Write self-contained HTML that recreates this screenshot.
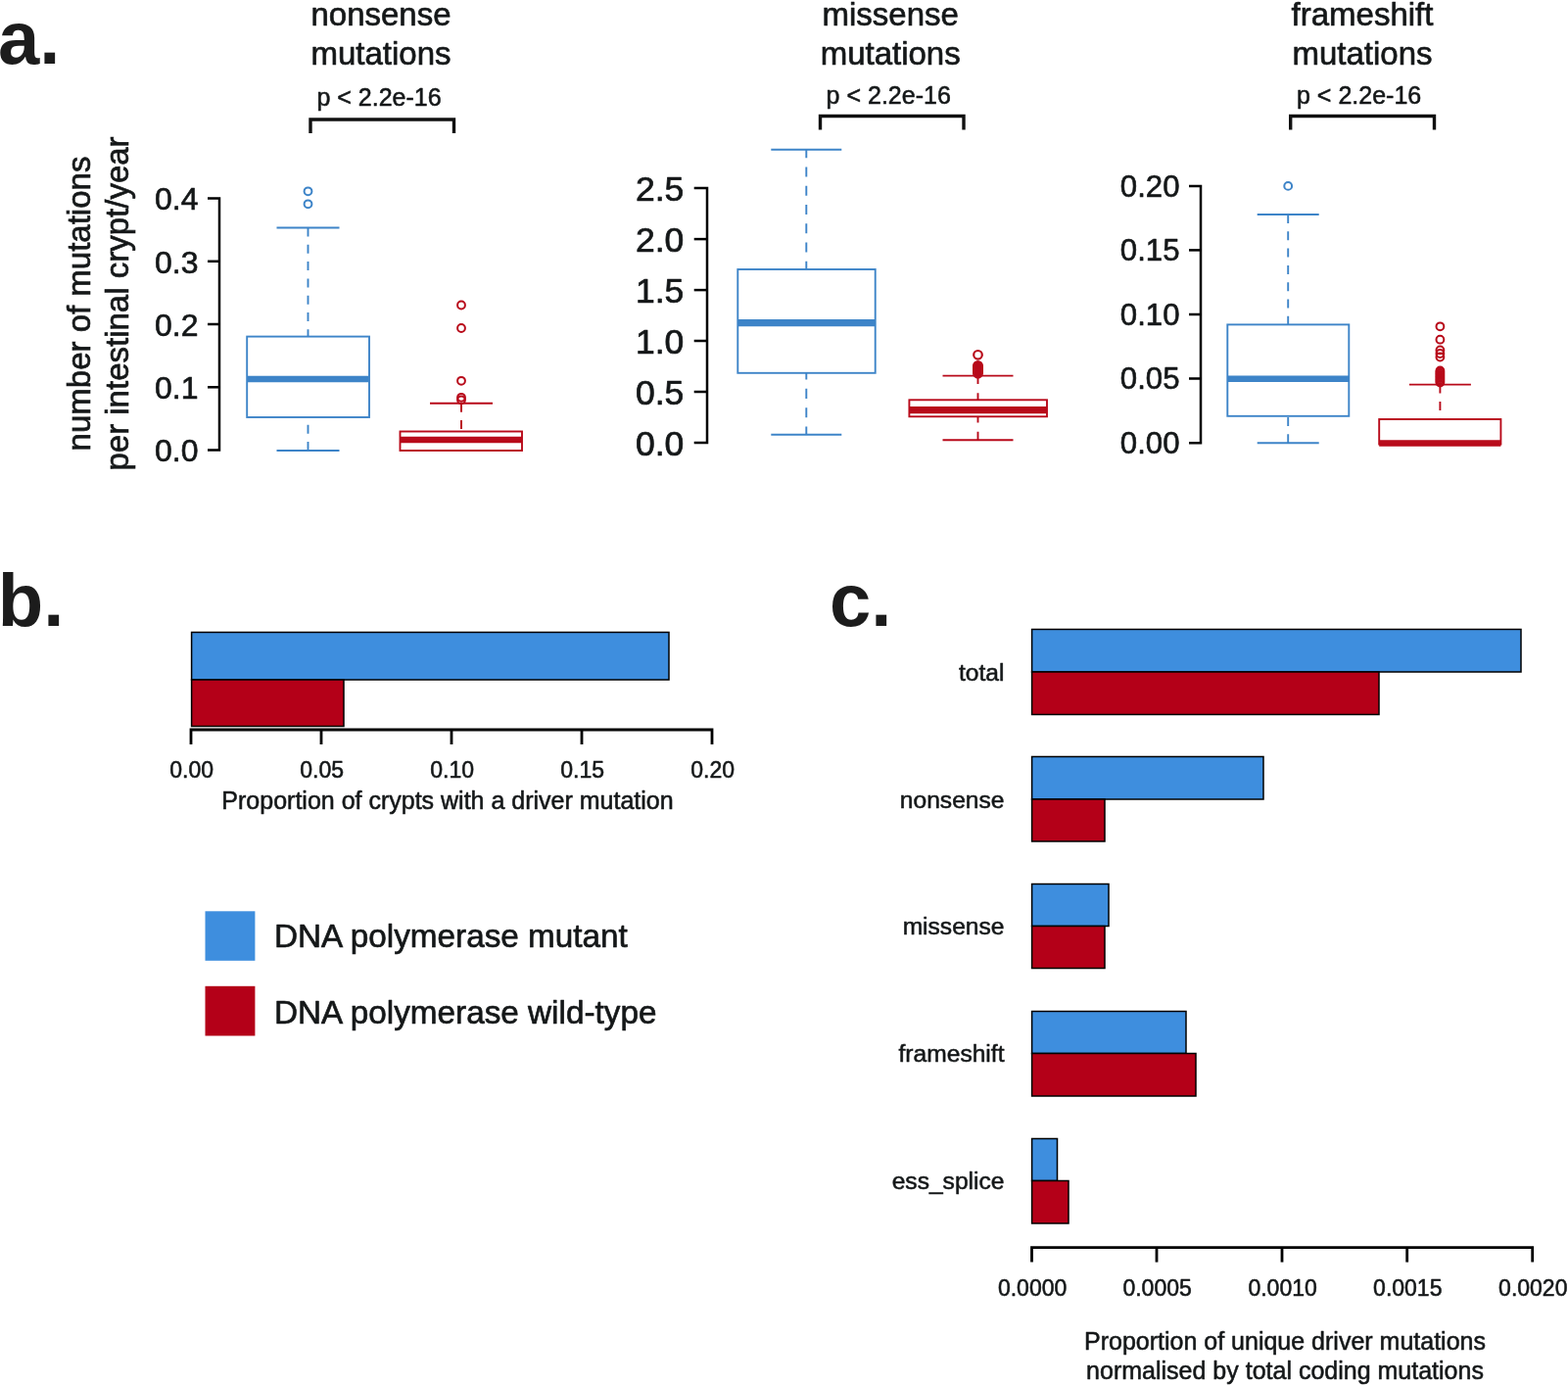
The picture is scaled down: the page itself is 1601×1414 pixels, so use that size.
<!DOCTYPE html>
<html lang="en">
<head>
<meta charset="utf-8">
<title>Figure</title>
<style>
html,body{margin:0;padding:0;background:#fff;}
body{width:1601px;height:1414px;overflow:hidden;}
svg{display:block;font-family:"Liberation Sans",Arial,Helvetica,sans-serif;}
</style>
</head>
<body>
<svg width="1601" height="1414" viewBox="0 0 1601 1414">
<rect x="0" y="0" width="1601" height="1414" fill="#ffffff"/>
<text x="-2" y="65" font-size="76" font-weight="bold" fill="#1c1c1c" >a.</text>
<text x="-2.3" y="639.3" font-size="76" font-weight="bold" fill="#1c1c1c" >b.</text>
<text x="847" y="639.3" font-size="76" font-weight="bold" fill="#1c1c1c" >c.</text>
<text x="389" y="25.9" font-size="33" text-anchor="middle" fill="#141718" stroke="#141718" stroke-width="0.66" stroke-linejoin="round" >nonsense</text>
<text x="389" y="66" font-size="33" text-anchor="middle" fill="#141718" stroke="#141718" stroke-width="0.66" stroke-linejoin="round" >mutations</text>
<text x="387" y="108.3" font-size="25" text-anchor="middle" fill="#141718" stroke="#141718" stroke-width="0.55" stroke-linejoin="round" >p &lt; 2.2e-16</text>
<path d="M317 136 V122 H463.5 V136" fill="none" stroke="#111" stroke-width="3.4"/>
<path d="M212 202.5 H224 V459.5 H212" fill="none" stroke="#000" stroke-width="2.5"/>
<line x1="212" y1="266.8" x2="224" y2="266.8" stroke="#000" stroke-width="2.5" />
<line x1="212" y1="331" x2="224" y2="331" stroke="#000" stroke-width="2.5" />
<line x1="212" y1="395.3" x2="224" y2="395.3" stroke="#000" stroke-width="2.5" />
<text x="202.5" y="214.3" font-size="32" text-anchor="end" fill="#141718" stroke="#141718" stroke-width="0.64" stroke-linejoin="round" >0.4</text>
<text x="202.5" y="278.6" font-size="32" text-anchor="end" fill="#141718" stroke="#141718" stroke-width="0.64" stroke-linejoin="round" >0.3</text>
<text x="202.5" y="342.8" font-size="32" text-anchor="end" fill="#141718" stroke="#141718" stroke-width="0.64" stroke-linejoin="round" >0.2</text>
<text x="202.5" y="407.1" font-size="32" text-anchor="end" fill="#141718" stroke="#141718" stroke-width="0.64" stroke-linejoin="round" >0.1</text>
<text x="202.5" y="471.3" font-size="32" text-anchor="end" fill="#141718" stroke="#141718" stroke-width="0.64" stroke-linejoin="round" >0.0</text>
<line x1="314.5" y1="232.5" x2="314.5" y2="343.6" stroke="#3d84c8" stroke-width="1.9" stroke-dasharray="9.0 8.3" stroke-dashoffset="0"/>
<line x1="282.5" y1="232.5" x2="346.5" y2="232.5" stroke="#3d84c8" stroke-width="1.9" />
<line x1="314.5" y1="460" x2="314.5" y2="426" stroke="#3d84c8" stroke-width="1.9" stroke-dasharray="9.0 8.3" stroke-dashoffset="0"/>
<line x1="282.5" y1="460" x2="346.5" y2="460" stroke="#3d84c8" stroke-width="1.9" />
<rect x="252.2" y="343.6" width="124.8" height="82.4" fill="#fff" stroke="#3d84c8" stroke-width="1.9"/>
<line x1="252.2" y1="387" x2="377" y2="387" stroke="#3d84c8" stroke-width="6.5" />
<circle cx="314.5" cy="195.3" r="3.9" fill="none" stroke="#3d84c8" stroke-width="2"/>
<circle cx="314.5" cy="208.3" r="3.9" fill="none" stroke="#3d84c8" stroke-width="2"/>
<line x1="471" y1="411.8" x2="471" y2="440.5" stroke="#b80a1a" stroke-width="1.9" stroke-dasharray="9.0 8.3" stroke-dashoffset="0"/>
<line x1="439" y1="411.8" x2="503" y2="411.8" stroke="#b80a1a" stroke-width="1.9" />
<rect x="408.5" y="440.5" width="124.5" height="19.5" fill="#fff" stroke="#b80a1a" stroke-width="1.9"/>
<line x1="408.5" y1="449" x2="533" y2="449" stroke="#b80a1a" stroke-width="6.5" />
<circle cx="471" cy="311.5" r="3.9" fill="none" stroke="#b80a1a" stroke-width="2"/>
<circle cx="471" cy="335" r="3.9" fill="none" stroke="#b80a1a" stroke-width="2"/>
<circle cx="471" cy="388.8" r="3.9" fill="none" stroke="#b80a1a" stroke-width="2"/>
<circle cx="471" cy="405.8" r="3.9" fill="none" stroke="#b80a1a" stroke-width="2"/>
<circle cx="471" cy="408.3" r="3.9" fill="none" stroke="#b80a1a" stroke-width="2"/>
<text x="909.2" y="25.9" font-size="33" text-anchor="middle" fill="#141718" stroke="#141718" stroke-width="0.66" stroke-linejoin="round" >missense</text>
<text x="909.2" y="66" font-size="33" text-anchor="middle" fill="#141718" stroke="#141718" stroke-width="0.66" stroke-linejoin="round" >mutations</text>
<text x="907.2" y="106" font-size="25" text-anchor="middle" fill="#141718" stroke="#141718" stroke-width="0.55" stroke-linejoin="round" >p &lt; 2.2e-16</text>
<path d="M837.5 132.5 V118.5 H984 V132.5" fill="none" stroke="#111" stroke-width="3.4"/>
<path d="M708.7 192.1 H722 V452 H708.7" fill="none" stroke="#000" stroke-width="2.5"/>
<line x1="708.7" y1="244.1" x2="722" y2="244.1" stroke="#000" stroke-width="2.5" />
<line x1="708.7" y1="296.1" x2="722" y2="296.1" stroke="#000" stroke-width="2.5" />
<line x1="708.7" y1="348" x2="722" y2="348" stroke="#000" stroke-width="2.5" />
<line x1="708.7" y1="400" x2="722" y2="400" stroke="#000" stroke-width="2.5" />
<text x="698.3" y="205.1" font-size="35.5" text-anchor="end" fill="#141718" stroke="#141718" stroke-width="0.71" stroke-linejoin="round" >2.5</text>
<text x="698.3" y="257.1" font-size="35.5" text-anchor="end" fill="#141718" stroke="#141718" stroke-width="0.71" stroke-linejoin="round" >2.0</text>
<text x="698.3" y="309.1" font-size="35.5" text-anchor="end" fill="#141718" stroke="#141718" stroke-width="0.71" stroke-linejoin="round" >1.5</text>
<text x="698.3" y="361" font-size="35.5" text-anchor="end" fill="#141718" stroke="#141718" stroke-width="0.71" stroke-linejoin="round" >1.0</text>
<text x="698.3" y="413" font-size="35.5" text-anchor="end" fill="#141718" stroke="#141718" stroke-width="0.71" stroke-linejoin="round" >0.5</text>
<text x="698.3" y="465" font-size="35.5" text-anchor="end" fill="#141718" stroke="#141718" stroke-width="0.71" stroke-linejoin="round" >0.0</text>
<line x1="823.3" y1="152.8" x2="823.3" y2="275" stroke="#3d84c8" stroke-width="1.9" stroke-dasharray="10.04 9.25" stroke-dashoffset="1.67"/>
<line x1="787.3" y1="152.8" x2="859.3" y2="152.8" stroke="#3d84c8" stroke-width="1.9" />
<line x1="823.3" y1="443.8" x2="823.3" y2="380.8" stroke="#3d84c8" stroke-width="1.9" stroke-dasharray="10.04 9.25" stroke-dashoffset="1.67"/>
<line x1="787.3" y1="443.8" x2="859.3" y2="443.8" stroke="#3d84c8" stroke-width="1.9" />
<rect x="753.3" y="275" width="140.4" height="105.8" fill="#fff" stroke="#3d84c8" stroke-width="1.9"/>
<line x1="753.3" y1="329.5" x2="893.7" y2="329.5" stroke="#3d84c8" stroke-width="7.25" />
<line x1="998.5" y1="383.6" x2="998.5" y2="408.3" stroke="#b80a1a" stroke-width="1.9" stroke-dasharray="10.04 9.25" stroke-dashoffset="1.67"/>
<line x1="962.5" y1="383.6" x2="1034.5" y2="383.6" stroke="#b80a1a" stroke-width="1.9" />
<line x1="998.5" y1="449.2" x2="998.5" y2="425.3" stroke="#b80a1a" stroke-width="1.9" stroke-dasharray="10.04 9.25" stroke-dashoffset="1.67"/>
<line x1="962.5" y1="449.2" x2="1034.5" y2="449.2" stroke="#b80a1a" stroke-width="1.9" />
<rect x="928.4" y="408.3" width="140.6" height="17.0" fill="#fff" stroke="#b80a1a" stroke-width="1.9"/>
<line x1="928.4" y1="418.5" x2="1069" y2="418.5" stroke="#b80a1a" stroke-width="7.25" />
<circle cx="998.5" cy="373.3" r="4.3" fill="none" stroke="#b80a1a" stroke-width="2.2"/>
<circle cx="998.5" cy="374.3" r="4.3" fill="none" stroke="#b80a1a" stroke-width="2.2"/>
<circle cx="998.5" cy="375.3" r="4.3" fill="none" stroke="#b80a1a" stroke-width="2.2"/>
<circle cx="998.5" cy="376.3" r="4.3" fill="none" stroke="#b80a1a" stroke-width="2.2"/>
<circle cx="998.5" cy="377.3" r="4.3" fill="none" stroke="#b80a1a" stroke-width="2.2"/>
<circle cx="998.5" cy="378.3" r="4.3" fill="none" stroke="#b80a1a" stroke-width="2.2"/>
<circle cx="998.5" cy="379.3" r="4.3" fill="none" stroke="#b80a1a" stroke-width="2.2"/>
<circle cx="998.5" cy="380.3" r="4.3" fill="none" stroke="#b80a1a" stroke-width="2.2"/>
<circle cx="998.5" cy="381.3" r="4.3" fill="none" stroke="#b80a1a" stroke-width="2.2"/>
<circle cx="998.5" cy="362.3" r="4.3" fill="none" stroke="#b80a1a" stroke-width="2.2"/>
<text x="1391" y="25.9" font-size="33" text-anchor="middle" fill="#141718" stroke="#141718" stroke-width="0.66" stroke-linejoin="round" >frameshift</text>
<text x="1391" y="66" font-size="33" text-anchor="middle" fill="#141718" stroke="#141718" stroke-width="0.66" stroke-linejoin="round" >mutations</text>
<text x="1387.6" y="105.8" font-size="25" text-anchor="middle" fill="#141718" stroke="#141718" stroke-width="0.55" stroke-linejoin="round" >p &lt; 2.2e-16</text>
<path d="M1317.7 132.5 V118.5 H1464.5 V132.5" fill="none" stroke="#111" stroke-width="3.4"/>
<path d="M1214 189.9 H1226 V452.2 H1214" fill="none" stroke="#000" stroke-width="2.5"/>
<line x1="1214" y1="255.4" x2="1226" y2="255.4" stroke="#000" stroke-width="2.5" />
<line x1="1214" y1="321" x2="1226" y2="321" stroke="#000" stroke-width="2.5" />
<line x1="1214" y1="386.5" x2="1226" y2="386.5" stroke="#000" stroke-width="2.5" />
<text x="1204.5" y="200.7" font-size="31.2" text-anchor="end" fill="#141718" stroke="#141718" stroke-width="0.62" stroke-linejoin="round" >0.20</text>
<text x="1204.5" y="266.2" font-size="31.2" text-anchor="end" fill="#141718" stroke="#141718" stroke-width="0.62" stroke-linejoin="round" >0.15</text>
<text x="1204.5" y="331.8" font-size="31.2" text-anchor="end" fill="#141718" stroke="#141718" stroke-width="0.62" stroke-linejoin="round" >0.10</text>
<text x="1204.5" y="397.3" font-size="31.2" text-anchor="end" fill="#141718" stroke="#141718" stroke-width="0.62" stroke-linejoin="round" >0.05</text>
<text x="1204.5" y="463.0" font-size="31.2" text-anchor="end" fill="#141718" stroke="#141718" stroke-width="0.62" stroke-linejoin="round" >0.00</text>
<line x1="1315.2" y1="219" x2="1315.2" y2="331.4" stroke="#3d84c8" stroke-width="1.9" stroke-dasharray="9.0 8.3" stroke-dashoffset="0"/>
<line x1="1283.7" y1="219" x2="1346.7" y2="219" stroke="#3d84c8" stroke-width="1.9" />
<line x1="1315.2" y1="452.3" x2="1315.2" y2="424.8" stroke="#3d84c8" stroke-width="1.9" stroke-dasharray="9.0 8.3" stroke-dashoffset="0"/>
<line x1="1283.7" y1="452.3" x2="1346.7" y2="452.3" stroke="#3d84c8" stroke-width="1.9" />
<rect x="1253.3" y="331.4" width="124.0" height="93.4" fill="#fff" stroke="#3d84c8" stroke-width="1.9"/>
<line x1="1253.3" y1="386.7" x2="1377.3" y2="386.7" stroke="#3d84c8" stroke-width="6.5" />
<circle cx="1315.2" cy="189.9" r="3.9" fill="none" stroke="#3d84c8" stroke-width="2"/>
<line x1="1470.4" y1="392.6" x2="1470.4" y2="428" stroke="#b80a1a" stroke-width="1.9" stroke-dasharray="9.0 8.3" stroke-dashoffset="0"/>
<line x1="1438.9" y1="392.6" x2="1501.9" y2="392.6" stroke="#b80a1a" stroke-width="1.9" />
<rect x="1408.2" y="428" width="124.2" height="25.5" fill="#fff" stroke="#b80a1a" stroke-width="1.9"/>
<line x1="1408.2" y1="452.4" x2="1532.4" y2="452.4" stroke="#b80a1a" stroke-width="6.5" />
<circle cx="1470.4" cy="333.3" r="3.9" fill="none" stroke="#b80a1a" stroke-width="2"/>
<circle cx="1470.4" cy="346.7" r="3.9" fill="none" stroke="#b80a1a" stroke-width="2"/>
<circle cx="1470.4" cy="357.4" r="3.9" fill="none" stroke="#b80a1a" stroke-width="2"/>
<circle cx="1470.4" cy="361" r="3.9" fill="none" stroke="#b80a1a" stroke-width="2"/>
<circle cx="1470.4" cy="364.5" r="3.9" fill="none" stroke="#b80a1a" stroke-width="2"/>
<circle cx="1470.4" cy="378.5" r="3.9" fill="none" stroke="#b80a1a" stroke-width="2"/>
<circle cx="1470.4" cy="380.0" r="3.9" fill="none" stroke="#b80a1a" stroke-width="2"/>
<circle cx="1470.4" cy="381.5" r="3.9" fill="none" stroke="#b80a1a" stroke-width="2"/>
<circle cx="1470.4" cy="383.0" r="3.9" fill="none" stroke="#b80a1a" stroke-width="2"/>
<circle cx="1470.4" cy="384.5" r="3.9" fill="none" stroke="#b80a1a" stroke-width="2"/>
<circle cx="1470.4" cy="386.0" r="3.9" fill="none" stroke="#b80a1a" stroke-width="2"/>
<circle cx="1470.4" cy="387.5" r="3.9" fill="none" stroke="#b80a1a" stroke-width="2"/>
<circle cx="1470.4" cy="389.0" r="3.9" fill="none" stroke="#b80a1a" stroke-width="2"/>
<circle cx="1470.4" cy="390.5" r="3.9" fill="none" stroke="#b80a1a" stroke-width="2"/>
<g font-size="33" text-anchor="middle" fill="#141718" stroke="#141718" stroke-width="0.66">
<text transform="translate(92 310) rotate(-90)">number of mutations</text>
<text transform="translate(131 310) rotate(-90)">per intestinal crypt/year</text>
</g>
<rect x="195.6" y="645.5" width="487.4" height="48.5" fill="#3e8ede" stroke="#000" stroke-width="1.5"/>
<rect x="195.6" y="694" width="155.4" height="47.5" fill="#b40018" stroke="#000" stroke-width="1.5"/>
<path d="M195 760 V745 H727 V760" fill="none" stroke="#000" stroke-width="2.8"/>
<line x1="328" y1="745" x2="328" y2="760" stroke="#000" stroke-width="2.8" />
<line x1="461" y1="745" x2="461" y2="760" stroke="#000" stroke-width="2.8" />
<line x1="594" y1="745" x2="594" y2="760" stroke="#000" stroke-width="2.8" />
<text x="195.6" y="794" font-size="23" text-anchor="middle" fill="#141718" stroke="#141718" stroke-width="0.55" stroke-linejoin="round" >0.00</text>
<text x="328.6" y="794" font-size="23" text-anchor="middle" fill="#141718" stroke="#141718" stroke-width="0.55" stroke-linejoin="round" >0.05</text>
<text x="461.6" y="794" font-size="23" text-anchor="middle" fill="#141718" stroke="#141718" stroke-width="0.55" stroke-linejoin="round" >0.10</text>
<text x="594.6" y="794" font-size="23" text-anchor="middle" fill="#141718" stroke="#141718" stroke-width="0.55" stroke-linejoin="round" >0.15</text>
<text x="727.6" y="794" font-size="23" text-anchor="middle" fill="#141718" stroke="#141718" stroke-width="0.55" stroke-linejoin="round" >0.20</text>
<text x="457" y="825.5" font-size="25" text-anchor="middle" fill="#141718" stroke="#141718" stroke-width="0.55" stroke-linejoin="round" >Proportion of crypts with a driver mutation</text>
<rect x="209.5" y="930.3" width="50.9" height="50.5" fill="#3e8ede"/>
<rect x="209.5" y="1006.8" width="50.9" height="50.7" fill="#b40018"/>
<text x="280" y="967" font-size="33.3" fill="#141718" stroke="#141718" stroke-width="0.67" stroke-linejoin="round" >DNA polymerase mutant</text>
<text x="280" y="1045" font-size="33.3" fill="#141718" stroke="#141718" stroke-width="0.67" stroke-linejoin="round" >DNA polymerase wild-type</text>
<rect x="1053.6" y="642.5" width="499.4" height="43.5" fill="#3e8ede" stroke="#000" stroke-width="1.5"/>
<rect x="1053.6" y="686" width="354.4" height="43.5" fill="#b40018" stroke="#000" stroke-width="1.5"/>
<text x="1025.5" y="694.6" font-size="24.6" text-anchor="end" fill="#141718" stroke="#141718" stroke-width="0.55" stroke-linejoin="round" >total</text>
<rect x="1053.6" y="772.5" width="236.4" height="43.5" fill="#3e8ede" stroke="#000" stroke-width="1.5"/>
<rect x="1053.6" y="816" width="74.4" height="43" fill="#b40018" stroke="#000" stroke-width="1.5"/>
<text x="1025.5" y="824.6" font-size="24.6" text-anchor="end" fill="#141718" stroke="#141718" stroke-width="0.55" stroke-linejoin="round" >nonsense</text>
<rect x="1053.6" y="902.5" width="78.4" height="43.0" fill="#3e8ede" stroke="#000" stroke-width="1.5"/>
<rect x="1053.6" y="945.5" width="74.4" height="43.0" fill="#b40018" stroke="#000" stroke-width="1.5"/>
<text x="1025.5" y="954.1" font-size="24.6" text-anchor="end" fill="#141718" stroke="#141718" stroke-width="0.55" stroke-linejoin="round" >missense</text>
<rect x="1053.6" y="1032.5" width="157.4" height="43.0" fill="#3e8ede" stroke="#000" stroke-width="1.5"/>
<rect x="1053.6" y="1075.5" width="167.4" height="43.5" fill="#b40018" stroke="#000" stroke-width="1.5"/>
<text x="1025.5" y="1084.1" font-size="24.6" text-anchor="end" fill="#141718" stroke="#141718" stroke-width="0.55" stroke-linejoin="round" >frameshift</text>
<rect x="1053.6" y="1162.5" width="25.9" height="43.0" fill="#3e8ede" stroke="#000" stroke-width="1.5"/>
<rect x="1053.6" y="1205.5" width="37.4" height="43.5" fill="#b40018" stroke="#000" stroke-width="1.5"/>
<text x="1025.5" y="1214.1" font-size="24.6" text-anchor="end" fill="#141718" stroke="#141718" stroke-width="0.55" stroke-linejoin="round" >ess_splice</text>
<path d="M1053.5 1288.6 V1273.6 H1564.7 V1288.6" fill="none" stroke="#000" stroke-width="2.8"/>
<line x1="1181" y1="1273.6" x2="1181" y2="1288.6" stroke="#000" stroke-width="2.8" />
<line x1="1309" y1="1273.6" x2="1309" y2="1288.6" stroke="#000" stroke-width="2.8" />
<line x1="1436.7" y1="1273.6" x2="1436.7" y2="1288.6" stroke="#000" stroke-width="2.8" />
<text x="1054.1" y="1323.3" font-size="23" text-anchor="middle" fill="#141718" stroke="#141718" stroke-width="0.55" stroke-linejoin="round" >0.0000</text>
<text x="1181.6" y="1323.3" font-size="23" text-anchor="middle" fill="#141718" stroke="#141718" stroke-width="0.55" stroke-linejoin="round" >0.0005</text>
<text x="1309.6" y="1323.3" font-size="23" text-anchor="middle" fill="#141718" stroke="#141718" stroke-width="0.55" stroke-linejoin="round" >0.0010</text>
<text x="1437.3" y="1323.3" font-size="23" text-anchor="middle" fill="#141718" stroke="#141718" stroke-width="0.55" stroke-linejoin="round" >0.0015</text>
<text x="1565.3" y="1323.3" font-size="23" text-anchor="middle" fill="#141718" stroke="#141718" stroke-width="0.55" stroke-linejoin="round" >0.0020</text>
<text x="1312" y="1378.3" font-size="25" text-anchor="middle" fill="#141718" stroke="#141718" stroke-width="0.55" stroke-linejoin="round" >Proportion of unique driver mutations</text>
<text x="1312" y="1408.3" font-size="25" text-anchor="middle" fill="#141718" stroke="#141718" stroke-width="0.55" stroke-linejoin="round" >normalised by total coding mutations</text>
</svg>
</body>
</html>
